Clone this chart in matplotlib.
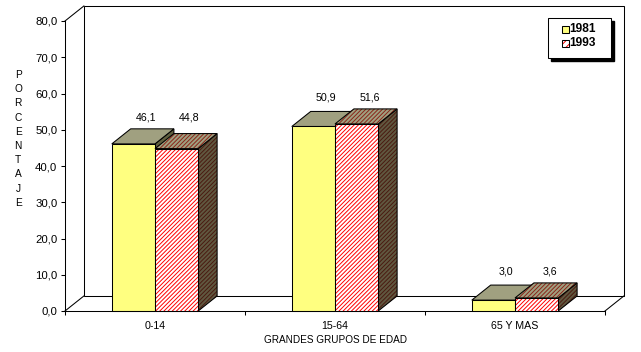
import matplotlib
matplotlib.use('Agg')
import matplotlib.pyplot as plt
from matplotlib.patches import Polygon, Rectangle

# ---------------- data ----------------
categories = ['0-14', '15-64', '65 Y MAS']
years = ['1981', '1993']
values_1981 = [46.1, 50.9, 3.0]
values_1993 = [44.8, 51.6, 3.6]
yticks = [0, 10, 20, 30, 40, 50, 60, 70, 80]
ytick_labels = ['0,0', '10,0', '20,0', '30,0', '40,0', '50,0', '60,0', '70,0', '80,0']
xlabel = 'GRANDES GRUPOS DE EDAD'
ylabel = 'PORCENTAJE'

plt.rcParams['font.family'] = ['Liberation Sans', 'DejaVu Sans']
plt.rcParams['hatch.linewidth'] = 0.7

W, H = 641, 352
fig = plt.figure(figsize=(W / 100, H / 100), dpi=100)
ax = fig.add_axes([65 / W, 41 / H, 540 / W, 290 / H])
ax.set_xlim(0, len(categories))
ax.set_ylim(0, 80)
ax.patch.set_visible(False)

DX, DY = 0.105, 4.15   # 3D depth offset in data units
BW = 0.24              # bar width
LW = 0.75
NC = len(categories)
HATCH = '////////'


def face(pts, fc, hatch=None, hc=None, z=2):
    if hatch:
        ax.add_patch(Polygon(pts, closed=True, facecolor=fc, edgecolor=hc, lw=0,
                             hatch=hatch, zorder=z, clip_on=False))
    else:
        ax.add_patch(Polygon(pts, closed=True, facecolor=fc, edgecolor='none',
                             zorder=z, clip_on=False))
    ax.add_patch(Polygon(pts, closed=True, fill=False, edgecolor='black', lw=LW,
                         zorder=z, clip_on=False, joinstyle='miter'))


# walls / floor
face([(DX, DY), (NC + DX, DY), (NC + DX, 80 + DY), (DX, 80 + DY)], 'white', z=0.5)
for (x0, y0), (x1, y1) in [((0, 0), (DX, DY)), ((0, 80), (DX, 80 + DY)),
                           ((NC, 0), (NC + DX, DY))]:
    ax.plot([x0, x1], [y0, y1], color='black', lw=LW, clip_on=False, zorder=0.6)

styles = [
    dict(front=('#FFFF80', None, None), top=('#A0A080', None, None), side=('#606040', None, None)),
    dict(front=('white', HATCH, '#FF0000'), top=('#A0A080', HATCH, '#8A2418'),
         side=('#605840', HATCH, '#4A1A10')),
]


def bar3d(x0, v, st, z):
    front = [(x0, 0), (x0 + BW, 0), (x0 + BW, v), (x0, v)]
    top = [(x0, v), (x0 + BW, v), (x0 + BW + DX, v + DY), (x0 + DX, v + DY)]
    side = [(x0 + BW, 0), (x0 + BW + DX, DY), (x0 + BW + DX, v + DY), (x0 + BW, v)]
    face(side, st['side'][0], st['side'][1], st['side'][2], z)
    face(top, st['top'][0], st['top'][1], st['top'][2], z + 0.1)
    face(front, st['front'][0], st['front'][1], st['front'][2], z + 0.2)


def fmt(v):
    return f'{v:.1f}'.replace('.', ',')


for i in range(NC):
    c = i + 0.5
    vals = [values_1981[i], values_1993[i]]
    ylab = max(vals) + DY + 3.2
    for j, v in enumerate(vals):
        x0 = c - BW + j * BW
        bar3d(x0, v, styles[j], 1 + i + j * 0.5)
        ax.text(x0 + BW / 2 + 0.072, ylab, fmt(v), ha='center', va='center',
                fontsize=7.7, zorder=10)

# axes styling
for s in ['top', 'right']:
    ax.spines[s].set_visible(False)
for s in ['left', 'bottom']:
    ax.spines[s].set_linewidth(LW)
ax.set_yticks(yticks, ytick_labels)
ax.tick_params(axis='y', direction='out', length=3, width=LW, pad=2.5, labelsize=8.2)
ax.set_xticks(range(NC + 1), [''] * (NC + 1))
ax.set_xticks([i + 0.5 for i in range(NC)], categories, minor=True)
ax.tick_params(axis='x', which='major', direction='out', length=3, width=LW)
ax.tick_params(axis='x', which='minor', length=0, pad=7, labelsize=7.7)
ax.set_xlabel(xlabel, fontsize=7.2, labelpad=3)


def px(x, y):
    return (x / W, 1 - y / H)


for k, ch in enumerate(ylabel):
    fig.text(*px(18, 75 + k * 14.2), ch, ha='center', va='center', fontsize=7.3)

# legend (drawn as a framed box with drop shadow)
lx, ly, lw_, lh = 548, 18, 63, 40
fig.add_artist(Rectangle(px(lx + 3, ly + 3 + lh), lw_ / W, lh / H, transform=fig.transFigure,
                         facecolor='black', edgecolor='black', zorder=20))
fig.add_artist(Rectangle(px(lx, ly + lh), lw_ / W, lh / H, transform=fig.transFigure,
                         facecolor='white', edgecolor='black', lw=LW, zorder=21))
for k, yr in enumerate(years):
    yc = 29 + 14 * k
    st = styles[k]['front']
    if st[1]:
        fig.add_artist(Rectangle(px(562, yc + 3.5), 6.5 / W, 6.5 / H, transform=fig.transFigure,
                                 facecolor=st[0], edgecolor=st[2], lw=0, hatch='/////', zorder=22))
    else:
        fig.add_artist(Rectangle(px(562, yc + 3.5), 6.5 / W, 6.5 / H, transform=fig.transFigure,
                                 facecolor=st[0], edgecolor='none', zorder=22))
    fig.add_artist(Rectangle(px(562, yc + 3.5), 6.5 / W, 6.5 / H, transform=fig.transFigure,
                             fill=False, edgecolor='black', lw=LW, zorder=23))
    fig.text(*px(569, yc), yr, ha='left', va='center', fontsize=8.6, fontweight='bold',
             zorder=24)

fig.savefig('out.png', dpi=100)
